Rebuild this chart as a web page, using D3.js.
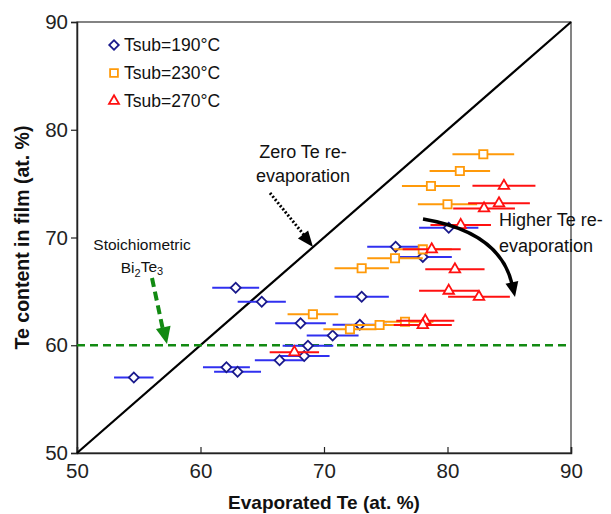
<!DOCTYPE html>
<html><head><meta charset="utf-8">
<script src="https://cdn.jsdelivr.net/npm/d3@7/dist/d3.min.js"></script>
<style>body{margin:0;background:#fff}svg{display:block;font-family:"Liberation Sans",Arial,sans-serif}</style>
</head><body><svg id="c" width="611" height="514"></svg>
<script>
const xTicks = [50, 60, 70, 80, 90];
const yTicks = [50, 60, 70, 80, 90];
const seriesNames = ["Tsub=190°C", "Tsub=230°C", "Tsub=270°C"];
const blueX = [54.6, 62.1, 63.0, 66.4, 68.4, 68.7, 70.7, 68.1, 72.9, 73.05, 62.85, 64.96, 75.8, 78.0, 80.1];
const blueY = [57.0, 57.95, 57.55, 58.6, 59.0, 59.96, 60.9, 62.04, 61.9, 64.5, 65.34, 64.04, 69.15, 68.2, 70.9];
const blueErr = [1.6, 1.9, 1.9, 2.0, 2.05, 2.05, 2.1, 2.05, 2.2, 2.2, 1.9, 1.95, 2.3, 2.35, 2.4];
const orangeX = [82.9, 81.0, 78.66, 80.0, 78.0, 75.75, 73.05, 69.1, 74.5, 72.1, 76.56];
const orangeY = [77.72, 76.17, 74.78, 73.08, 68.9, 68.07, 67.14, 62.87, 61.88, 61.48, 62.19];
const orangeErr = [2.5, 2.45, 2.35, 2.4, 2.35, 2.25, 2.2, 2.05, 2.25, 2.15, 2.3];
const redX = [84.57, 84.17, 82.96, 81.07, 78.72, 80.6, 80.1, 82.55, 78.2, 78.0, 67.6];
const redY = [74.8, 73.17, 72.7, 71.16, 68.9, 67.05, 65.06, 64.5, 62.28, 61.88, 59.35];
const redErr = [2.55, 2.5, 2.5, 2.45, 2.35, 2.4, 2.4, 2.5, 2.35, 2.35, 2.0];
const stoichY = 60;

const svg = d3.select("#c");
const M = {l:77, r:40, t:22, b:61};
const W = 611, H = 514;
const x = d3.scaleLinear().domain([50,90]).range([M.l, W-M.r]);
const y = d3.scaleLinear().domain([50,90]).range([H-M.b, M.t]);

svg.append("rect").attr("x",M.l).attr("y",M.t).attr("width",W-M.r-M.l).attr("height",H-M.b-M.t)
  .attr("fill","none").attr("stroke","#333").attr("stroke-width",1.2);

const xa = svg.append("g").attr("transform",`translate(0,${H-M.b})`)
  .call(d3.axisBottom(x).tickValues(xTicks).tickSize(-6).tickPadding(10).tickFormat(d3.format("d")));
const ya = svg.append("g").attr("transform",`translate(${M.l},0)`)
  .call(d3.axisLeft(y).tickValues(yTicks).tickSize(6).tickPadding(3).tickFormat(d3.format("d")));
[xa,ya].forEach(a=>{
  a.selectAll("text").attr("font-size",20.5).attr("fill","#222").attr("font-family","Liberation Sans, Arial");
  a.selectAll("line").attr("stroke","#222").attr("stroke-width",1.2);
  a.select(".domain").attr("stroke","#222").attr("stroke-width",1.5);
});

svg.append("text").attr("x",(M.l+W-M.r)/2).attr("y",509).attr("text-anchor","middle")
  .attr("font-size",19).attr("font-weight","bold").attr("fill","#111").text("Evaporated Te (at. %)");
svg.append("text").attr("transform",`translate(29,${(M.t+H-M.b)/2}) rotate(-90)`).attr("text-anchor","middle")
  .attr("font-size",19.5).attr("font-weight","bold").attr("fill","#111").text("Te content in film (at. %)");

svg.append("line").attr("x1",x(50)).attr("y1",y(50)).attr("x2",x(90)).attr("y2",y(90))
  .attr("stroke","#000").attr("stroke-width",2.2);
svg.append("line").attr("x1",x(50)).attr("x2",x(90)).attr("y1",y(stoichY)).attr("y2",y(stoichY))
  .attr("stroke","#128a12").attr("stroke-width",2.6).attr("stroke-dasharray","8,5");

const series = [
  {xs:blueX, ys:blueY, es:blueErr, bar:"#3030f0", mk:"#1a1a8c", sym:d3.symbolSquare, size:50, rot:45},
  {xs:orangeX, ys:orangeY, es:orangeErr, bar:"#ff9a0a", mk:"#ff9a0a", sym:d3.symbolSquare, size:68, rot:0},
  {xs:redX, ys:redY, es:redErr, bar:"#ff1010", mk:"#ff1010", sym:d3.symbolTriangle, size:48, rot:0}
];
series.forEach(s=>{
  const pts = s.xs.map((v,i)=>({x:v,y:s.ys[i],e:s.es[i]}));
  const g = svg.append("g");
  g.selectAll("line").data(pts).join("line")
    .attr("x1",d=>x(d.x-d.e)).attr("x2",d=>x(d.x+d.e)).attr("y1",d=>y(d.y)).attr("y2",d=>y(d.y))
    .attr("stroke",s.bar).attr("stroke-width",2);
  g.selectAll("path").data(pts).join("path")
    .attr("d",d3.symbol().type(s.sym).size(s.size))
    .attr("transform",d=>`translate(${x(d.x)},${y(d.y)}) rotate(${s.rot})`)
    .attr("fill","#fff").attr("stroke",s.mk).attr("stroke-width",1.8);
});

seriesNames.forEach((n,i)=>{
  const s = series[i];
  const ly = 45 + i*28;
  svg.append("path").attr("d",d3.symbol().type(s.sym).size(s.size*0.9)).attr("transform",`translate(114,${ly}) rotate(${s.rot})`)
    .attr("fill","#fff").attr("stroke",s.mk).attr("stroke-width",1.8);
  svg.append("text").attr("x",124).attr("y",ly).attr("dy","0.36em").attr("font-size",17.5).attr("fill","#111").text(n);
});

const ann = svg.append("g").attr("font-size",18).attr("fill","#111");
ann.append("text").attr("x",303).attr("y",152).attr("dy","0.35em").attr("text-anchor","middle").text("Zero Te re-");
ann.append("text").attr("x",303).attr("y",176).attr("dy","0.35em").attr("text-anchor","middle").text("evaporation");
ann.append("text").attr("x",142).attr("y",245).attr("dy","0.35em").attr("font-size",15.5).attr("text-anchor","middle").text("Stoichiometric");
const bt = ann.append("text").attr("x",142).attr("y",268).attr("dy","0.35em").attr("font-size",15.5).attr("text-anchor","middle");
bt.append("tspan").text("Bi");
bt.append("tspan").attr("font-size",11).attr("dy","0.3em").text("2");
bt.append("tspan").attr("dy","-0.3em").text("Te");
bt.append("tspan").attr("font-size",11).attr("dy","0.3em").text("3");
ann.append("text").attr("x",499).attr("y",220).attr("dy","0.35em").text("Higher Te re-");
ann.append("text").attr("x",499).attr("y",246).attr("dy","0.35em").text("evaporation");

function head(tipX,tipY,ang,len,wid,color){
  const a = ang*Math.PI/180;
  const bx = tipX - len*Math.cos(a), by = tipY - len*Math.sin(a);
  const px = -Math.sin(a)*wid/2, py = Math.cos(a)*wid/2;
  svg.append("path").attr("d",`M${tipX},${tipY}L${bx+px},${by+py}L${bx-px},${by-py}Z`).attr("fill",color);
}
svg.append("line").attr("x1",270).attr("y1",193).attr("x2",304).attr("y2",235)
  .attr("stroke","#000").attr("stroke-width",3).attr("stroke-dasharray","2,2");
head(313,247,Math.atan2(247-193,313-270)*180/Math.PI,16,13,"#000");
svg.append("line").attr("x1",152).attr("y1",278).attr("x2",163).attr("y2",330)
  .attr("stroke","#128a12").attr("stroke-width",4).attr("stroke-dasharray","9,5");
head(167,344,Math.atan2(344-278,167-152)*180/Math.PI,17,15,"#128a12");
svg.append("path").attr("d","M423,219 Q500,232 512,284").attr("fill","none").attr("stroke","#000").attr("stroke-width",3.5);
head(515,297,78,15,13,"#000");
</script></body></html>
